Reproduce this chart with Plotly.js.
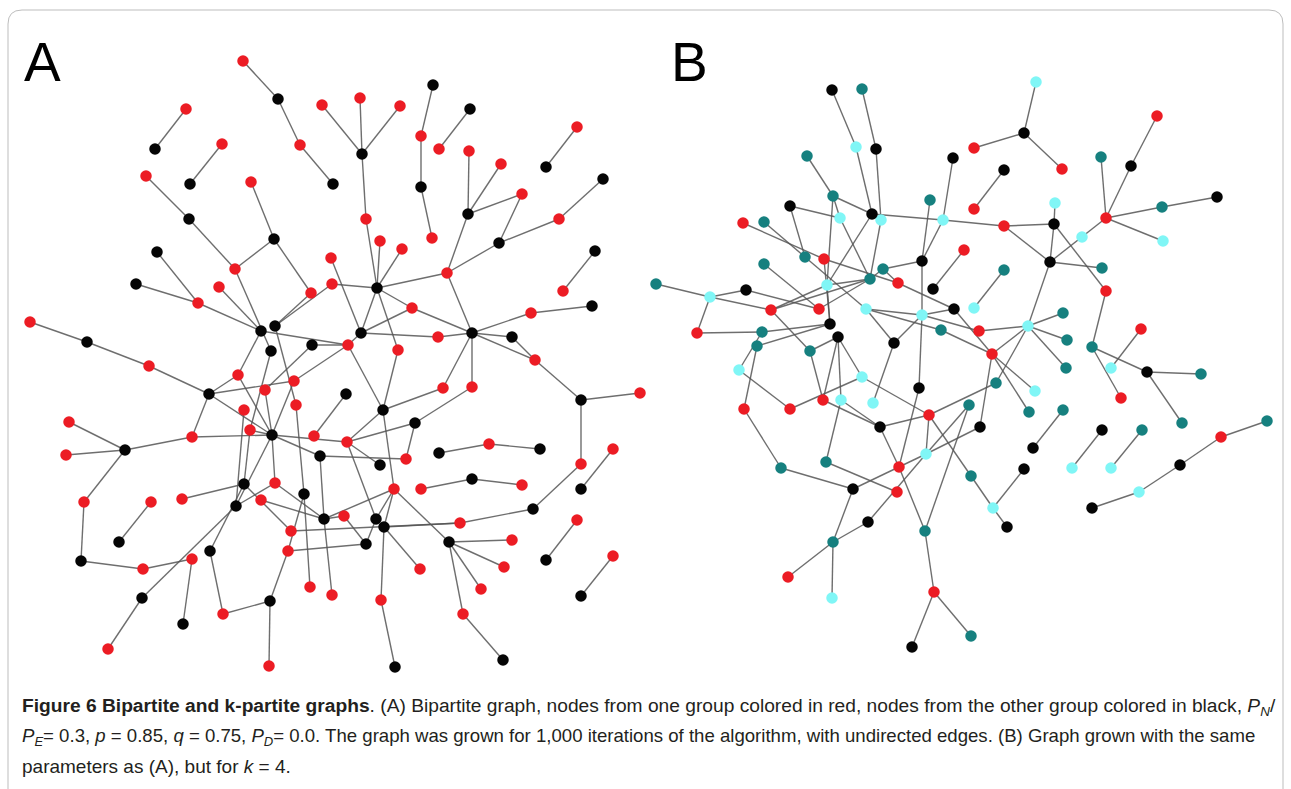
<!DOCTYPE html>
<html><head><meta charset="utf-8">
<script src="https://cdn.plot.ly/plotly-3.0.1.min.js"></script>
<style>html,body{margin:0;padding:0;background:#fff;}#chart{width:1291px;height:789px;}</style>
</head><body><div id="chart"></div>
<script>
// ---------- Panel A (bipartite) ----------
const aNodeX = [243,278,322,186,155,222,300,333,146,190,251,189,274,157,235,331,136,219,198,311,332,30,87,261,275,271,312,348,
433,360,400,470,421,439,469,577,501,362,546,603,421,522,468,559,366,499,380,402,432,447,377,563,595,592,412,531,361,438,472,512,398,535,443,472,
346,581,640,383,415,347,489,439,540,613,380,406,581,472,421,522,581,394,533,344,376,384,460,577,512,449,366,546,504,420,481,613,581,332,381,463,503,395,
149,238,294,265,209,296,244,69,250,272,314,192,125,66,320,275,244,304,84,151,182,261,236,324,291,119,210,288,81,192,143,310,142,270,223,183,108,269];
const aNodeY = [61,99,105,109,149,144,145,184,176,184,182,219,239,252,269,258,284,287,303,293,284,322,342,331,326,351,345,345,
85,98,106,109,136,149,151,127,164,154,167,179,187,194,214,219,219,243,241,249,238,273,288,291,251,306,308,313,333,337,333,337,350,360,388,387,
394,400,393,410,423,442,444,453,449,449,465,459,464,479,489,485,489,489,509,516,519,527,523,520,540,542,544,560,567,569,589,556,596,595,600,614,660,667,
366,375,381,390,394,405,410,422,430,435,436,437,450,455,456,483,484,494,502,502,499,500,506,519,531,542,551,551,561,559,569,587,598,601,614,624,649,666];
const aNodeGroup = ['r','k','r','r','k','r','r','k','r','k','r','k','k','k','r','r','k','r','r','r','r','r','k','k','k','k','k','r',
'k','r','r','k','r','r','r','r','r','k','k','k','k','r','k','r','r','k','r','r','r','r','k','r','k','k','r','r','k','r','k','k','r','r','r','r',
'k','k','r','k','k','r','r','k','k','r','k','r','r','k','r','r','k','r','k','r','k','k','r','r','r','k','k','k','r','r','r','r','k','r','r','r','k','k',
'r','r','r','r','k','r','r','r','r','k','r','r','k','r','k','r','k','k','r','r','r','r','k','k','r','k','k','r','k','r','r','r','k','k','r','k','r','r'];
const aEdges = [[0,1],[1,6],[6,7],[3,4],[5,9],[8,11],[11,14],[14,12],[12,10],[12,19],[13,18],[16,18],[18,23],[17,23],[21,22],[22,102],[102,106],
[19,24],[23,27],[26,27],[15,56],[24,20],[20,50],[14,25],[23,103],[25,110],[24,107],
[28,32],[32,40],[40,48],[31,33],[29,37],[30,37],[37,2],[37,44],[44,50],[50,46],[50,47],[50,49],[49,42],[42,34],[42,36],[42,41],[41,45],[45,43],[43,39],
[45,49],[35,38],[52,51],[53,55],[55,58],[49,58],[58,57],[57,56],[58,59],[59,61],[58,61],[50,54],[54,58],[54,56],[50,56],[50,60],[56,27],[58,63],[58,62],
[60,67],[27,67],[67,62],[67,69],[69,68],[68,63],[68,75],[116,75],[69,74],[69,84],[67,81],[81,85],[81,84],[81,89],[81,125],[85,86],[86,82],[82,76],
[76,65],[65,66],[65,61],[71,70],[70,72],[78,77],[77,79],[73,80],[87,91],[95,96],[89,88],[89,92],[89,94],[89,99],[99,100],[85,93],[85,98],[98,101],
[90,83],[84,90],[129,90],[97,125],[64,112],
[106,103],[106,104],[106,111],[106,113],[113,114],[114,109],[114,115],[114,120],[120,130],[130,132],[132,131],[131,137],[113,111],[111,69],
[111,116],[111,105],[111,110],[111,117],[111,124],[111,103],[118,122],[118,126],[118,110],[124,117],[123,125],[117,125],[116,125],[125,83],
[119,133],[119,129],[129,135],[135,136],[136,128],[135,139],[134,138],[121,127],[126,86],[107,119],[108,124],[128,118],[134,124],[104,27],[105,26],[104,111]];

// ---------- Panel B (k-partite, k = 4) ----------
const bNodeX = [832,862,856,876,807,953,833,930,790,872,840,881,943,743,764,964,805,824,922,764,883,656,827,870,898,933,746,710,819,771,866,922,954,830,697,762,838,941,894,757,810,
1036,1157,1024,974,1062,1101,1131,1004,974,1055,1217,1162,1106,1004,1054,1082,1163,1050,1004,1102,1106,974,1063,1028,979,1141,1067,1092,992,
1111,1147,1201,1066,996,1035,1121,969,1029,1063,1182,1267,980,1102,1142,1221,1033,1072,1111,1180,1024,971,1139,993,1092,1007,971,
739,862,919,744,790,823,841,873,929,880,926,826,899,781,853,897,868,925,833,788,832,934,912];
const bNodeY = [90,89,147,149,156,158,196,200,206,214,218,220,220,223,222,250,257,259,261,264,269,284,285,279,283,289,290,297,309,310,309,315,309,324,333,332,337,330,343,346,351,
82,116,133,148,169,157,166,170,209,203,197,207,218,226,224,237,241,262,270,268,291,308,313,326,331,329,340,347,354,
368,372,374,368,383,391,398,405,412,410,423,421,427,430,430,437,448,468,468,465,469,476,492,508,508,527,636,
370,377,388,409,409,400,400,403,415,427,454,462,467,468,489,492,522,531,542,577,598,592,647];
const bNodeGroup = ['k','t','c','k','t','k','t','t','k','k','c','c','c','r','t','r','t','r','k','t','t','t','c','t','r','k','k','c','r','r','c','c','k','k','r','t','k','t','k','t','t',
'c','r','k','r','r','t','k','k','r','c','k','t','r','r','k','c','c','k','t','t','r','c','t','c','r','r','t','t','r',
'c','k','t','t','t','c','r','t','t','t','t','t','k','k','t','r','k','c','c','k','k','t','c','c','k','k','t',
'c','c','k','r','r','r','c','c','r','k','c','t','r','t','k','r','k','t','t','r','c','r','k'];
const bEdges = [[0,2],[2,9],[1,3],[3,11],[4,6],[6,10],[6,9],[6,22],[8,10],[8,16],[10,23],[9,12],[12,54],[9,22],[11,23],[5,12],[12,18],[7,18],[18,31],
[31,99],[18,20],[20,23],[20,24],[13,17],[14,16],[17,24],[19,28],[21,27],[27,26],[27,34],[34,35],[27,29],[26,28],[29,22],[29,23],[29,40],[22,23],[22,33],
[30,31],[30,38],[31,32],[31,38],[36,40],[33,35],[25,15],[17,33],[24,32],[16,30],[65,31],[37,69],[28,23],[30,37],
[41,43],[43,44],[43,45],[48,49],[42,47],[47,53],[46,53],[53,52],[52,51],[53,57],[53,58],[50,55],[55,54],[54,58],[55,58],[55,61],[58,60],[58,64],
[61,68],[64,63],[64,65],[64,69],[64,67],[68,71],[68,76],[71,72],[71,80],[66,70],[59,62],[32,69],
[69,75],[69,78],[69,82],[73,64],[74,64],[79,86],[83,87],[84,88],[81,85],[85,89],[89,92],[92,94],[90,93],[91,93],[93,95],[82,107],[77,114],[74,105],[96,118],
[35,97],[39,100],[97,101],[101,98],[98,105],[40,102],[36,102],[36,103],[36,98],[38,104],[102,106],[103,108],[103,106],[106,105],[106,109],[99,109],
[109,114],[100,110],[110,111],[108,112],[111,107],[107,77],[105,107],[105,91],[113,107],[111,115],[113,115],[115,116],[115,117],[114,118],[118,119],[39,33]];

const groupColor = {r:'#ec1c24', k:'#050505', t:'#16807f', c:'#80f6f6'};
const groupOrder = ['t','c','r','k'];

// ---------- Caption ----------
const captionLines = [
 '<b>Figure 6 Bipartite and k-partite graphs</b>. (A) Bipartite graph, nodes from one group colored in red, nodes from the other group colored in black, <i>P<sub>N</sub></i>/',
 '<i>P<sub>E</sub></i>= 0.3, <i>p</i> = 0.85, <i>q</i> = 0.75, <i>P<sub>D</sub></i>= 0.0. The graph was grown for 1,000 iterations of the algorithm, with undirected edges. (B) Graph grown with the same',
 'parameters as (A), but for <i>k</i> = 4.'
];
const captionSizes = [19.2, 18.6, 19];
const panelLabels = ['A','B'];

function edgeTrace(nx, ny, edges){
  const x=[], y=[];
  edges.forEach(([i,j])=>{ x.push(nx[i],nx[j],null); y.push(ny[i],ny[j],null); });
  return {type:'scatter', mode:'lines', x, y, hoverinfo:'skip', showlegend:false,
    line:{color:'rgba(85,85,85,0.85)', width:1.4}};
}
function nodeTraces(nx, ny, ng){
  return groupOrder.map(g=>{
    const x=[], y=[];
    ng.forEach((gg,i)=>{ if(gg===g){ x.push(nx[i]); y.push(ny[i]); } });
    return {type:'scatter', mode:'markers', x, y, showlegend:false, hoverinfo:'skip',
      marker:{color:groupColor[g], size:11.5, line:{width:0}}};
  }).filter(t=>t.x.length);
}

const data = [edgeTrace(aNodeX,aNodeY,aEdges), ...nodeTraces(aNodeX,aNodeY,aNodeGroup),
              edgeTrace(bNodeX,bNodeY,bEdges), ...nodeTraces(bNodeX,bNodeY,bNodeGroup)];

const annotations = [
  {x:42, y:62, text:panelLabels[0], showarrow:false, xanchor:'center', yanchor:'middle', font:{family:'Liberation Sans, Arial', size:55, color:'#000'}},
  {x:689, y:62, text:panelLabels[1], showarrow:false, xanchor:'center', yanchor:'middle', font:{family:'Liberation Sans, Arial', size:55, color:'#000'}}
];
captionLines.forEach((t,i)=>annotations.push({x:20, y:707+i*29.5, text:t, showarrow:false, xanchor:'left', yanchor:'middle',
  font:{family:'Liberation Sans, Arial', size:captionSizes[i], color:'#231f20'}}));

const layout = {
  width:1291, height:789, margin:{l:0,r:0,t:0,b:0}, paper_bgcolor:'#fff', plot_bgcolor:'#fff',
  xaxis:{range:[0,1291], visible:false, fixedrange:true},
  yaxis:{range:[789,0], visible:false, fixedrange:true},
  annotations,
  shapes:[{type:'path', xref:'x', yref:'y', path:'M 8,800 L 8,24 Q 8,10 22,10 L 1269,10 Q 1283,10 1283,24 L 1283,800',
    line:{color:'#bdbdbd', width:1}}]
};
Plotly.newPlot('chart', data, layout, {staticPlot:true, displayModeBar:false});
</script></body></html>
